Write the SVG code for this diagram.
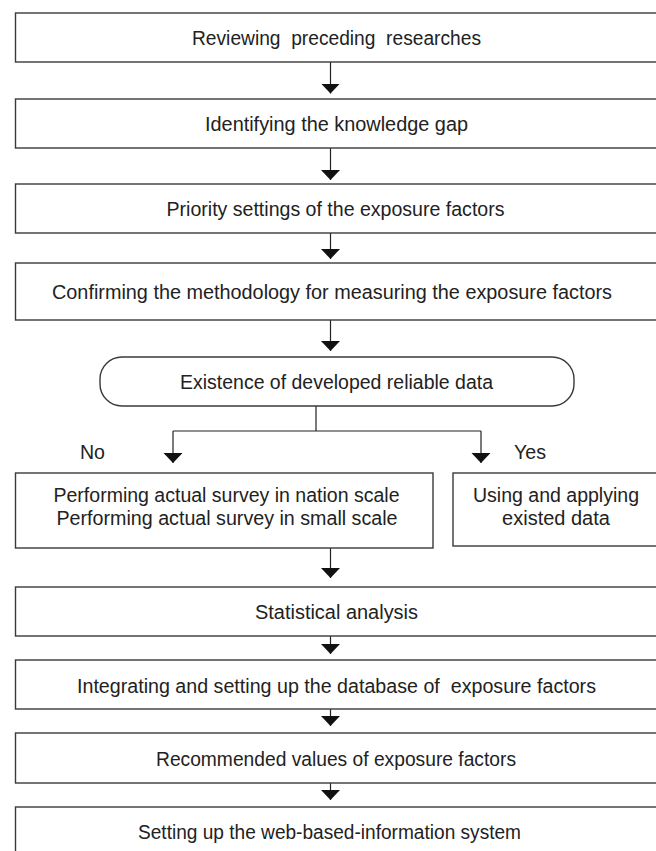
<svg xmlns="http://www.w3.org/2000/svg" width="656" height="851" viewBox="0 0 656 851">
<style>
.box{fill:#ffffff;stroke:#3a3a3a;stroke-width:1.4}
.t{font-family:"Liberation Sans",Arial,sans-serif;font-size:20px;fill:#222222;white-space:pre}
.c{fill:none;stroke:#222222;stroke-width:1.2}
</style>
<defs>
<marker id="ah" markerUnits="userSpaceOnUse" markerWidth="11" markerHeight="20" refX="10" refY="9.5" orient="auto">
<path d="M0,0 L10,9.5 L0,19 z" fill="#111111"/>
</marker>
</defs>
<rect width="656" height="851" fill="#ffffff"/>
<g id="connectors">
<path class="c" d="M330.5,62 V93.5" marker-end="url(#ah)"/>
<path class="c" d="M330.5,148 V180" marker-end="url(#ah)"/>
<path class="c" d="M330.5,233 V259" marker-end="url(#ah)"/>
<path class="c" d="M330.5,320 V351" marker-end="url(#ah)"/>
<path class="c" d="M316,406 V431"/>
<path class="c" d="M173,431 H481"/>
<path class="c" d="M173,431 V463" marker-end="url(#ah)"/>
<path class="c" d="M481,431 V463" marker-end="url(#ah)"/>
<path class="c" d="M330.5,548 V578" marker-end="url(#ah)"/>
<path class="c" d="M330.5,636 V654" marker-end="url(#ah)"/>
<path class="c" d="M330.5,709 V726" marker-end="url(#ah)"/>
<path class="c" d="M330.5,783 V800" marker-end="url(#ah)"/>
</g>
<g id="n1"><rect class="box" x="15.5" y="13" width="650" height="49"/><text class="t" x="192" y="44.5" textLength="289" lengthAdjust="spacingAndGlyphs">Reviewing  preceding  researches</text></g>
<g id="n2"><rect class="box" x="15.5" y="99" width="650" height="49"/><text class="t" x="205" y="130.5" textLength="263" lengthAdjust="spacingAndGlyphs">Identifying the knowledge gap</text></g>
<g id="n3"><rect class="box" x="15.5" y="184" width="650" height="49"/><text class="t" x="166.5" y="216" textLength="338" lengthAdjust="spacingAndGlyphs">Priority settings of the exposure factors</text></g>
<g id="n4"><rect class="box" x="15.5" y="263" width="650" height="57"/><text class="t" x="52" y="299" textLength="560" lengthAdjust="spacingAndGlyphs">Confirming the methodology for measuring the exposure factors</text></g>
<g id="n5"><rect class="box" x="100" y="357" width="474" height="49" rx="22" ry="22"/><text class="t" x="180" y="389" textLength="313" lengthAdjust="spacingAndGlyphs">Existence of developed reliable data</text></g>
<g id="lbl-no"><text class="t" x="80" y="459" textLength="25" lengthAdjust="spacingAndGlyphs">No</text></g>
<g id="lbl-yes"><text class="t" x="514" y="459" textLength="32" lengthAdjust="spacingAndGlyphs">Yes</text></g>
<g id="n6"><rect class="box" x="15.5" y="473" width="417.5" height="75"/><text class="t" x="53.5" y="502" textLength="346" lengthAdjust="spacingAndGlyphs">Performing actual survey in nation scale</text><text class="t" x="56.5" y="525" textLength="341" lengthAdjust="spacingAndGlyphs">Performing actual survey in small scale</text></g>
<g id="n7"><rect class="box" x="453" y="473" width="220" height="73"/><text class="t" x="473" y="502" textLength="166" lengthAdjust="spacingAndGlyphs">Using and applying</text><text class="t" x="556" y="525" text-anchor="middle">existed data</text></g>
<g id="n8"><rect class="box" x="15.5" y="587" width="650" height="49"/><text class="t" x="255" y="619" textLength="163" lengthAdjust="spacingAndGlyphs">Statistical analysis</text></g>
<g id="n9"><rect class="box" x="15.5" y="660" width="650" height="49"/><text class="t" x="77" y="692.5" textLength="519" lengthAdjust="spacingAndGlyphs">Integrating and setting up the database of  exposure factors</text></g>
<g id="n10"><rect class="box" x="15.5" y="733" width="650" height="50"/><text class="t" x="156" y="765.5" textLength="360" lengthAdjust="spacingAndGlyphs">Recommended values of exposure factors</text></g>
<g id="n11"><rect class="box" x="15.5" y="807" width="650" height="60"/><text class="t" x="138" y="839" textLength="383" lengthAdjust="spacingAndGlyphs">Setting up the web-based-information system</text></g>
</svg>
